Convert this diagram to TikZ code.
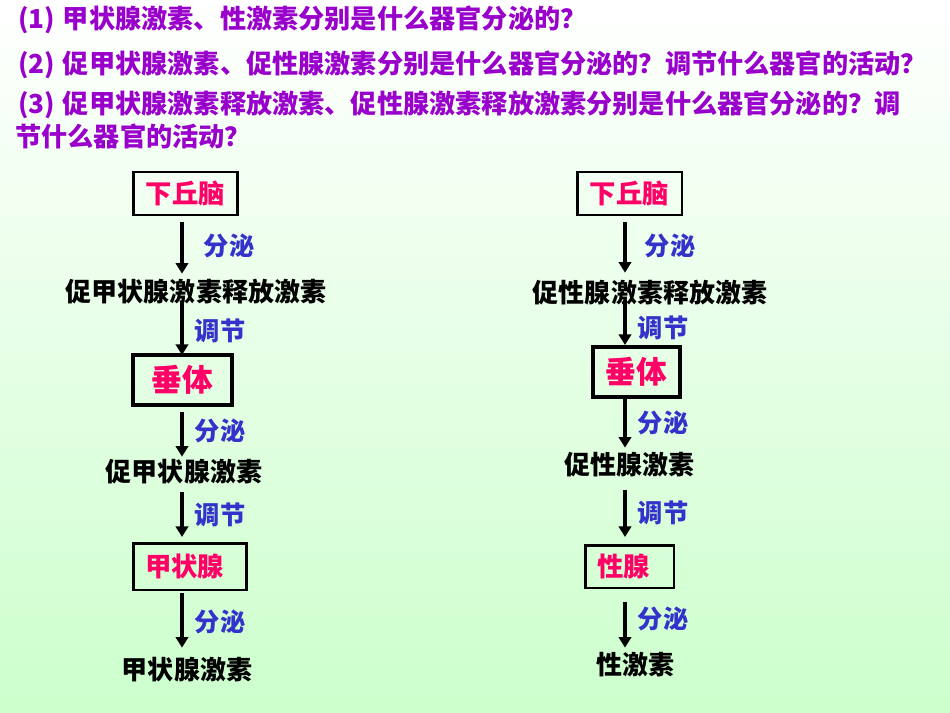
\documentclass[tikz,border=0pt]{standalone}
\usepackage{fontspec}
\setmainfont{Noto Sans CJK SC}
\usetikzlibrary{arrows.meta, positioning}
\definecolor{ungu}{RGB}{153,0,204}
\definecolor{merah}{RGB}{255,0,102}
\definecolor{biru}{RGB}{51,51,204}
\definecolor{hijaumuda}{RGB}{204,255,204}

\begin{document}
\begin{tikzpicture}[
			x=0.02cm, y=-0.02cm,
			tanya/.style={anchor=west, inner sep=0, text=ungu, font=\bfseries\fontsize{14.9}{18}\selectfont},
			qiguan/.style={draw, rectangle, line width=1.7pt, inner sep=0, outer sep=0, text=merah, font=\bfseries\fontsize{15}{18}\selectfont},
			jisu/.style={inner sep=0, minimum height=0.6cm, font=\bfseries\fontsize{14.8}{18}\selectfont},
			zhushi/.style={inner sep=0, anchor=west, text=biru, font=\bfseries\fontsize{14.4}{17}\selectfont},
			jiantou/.style={-{Triangle[length=6pt, width=7pt]}, line width=2pt}
		]
		% Latar belakang
		\shade[top color=white, bottom color=hijaumuda] (0,0) rectangle (950,713);
		\useasboundingbox (0,0) rectangle (950,713);

		% Pertanyaan
		\node[tanya] (t1) at (18,20) {(1)\hspace{1pt} 甲状腺激素、性激素分别是什么器官分泌的？};
		\node[tanya] (t2) at (18,65) {(2)\hspace{1pt} 促甲状腺激素、促性腺激素分别是什么器官分泌的？调节什么器官的活动？};
		\node[tanya] (t3) at (18,105) {(3)\hspace{1pt} 促甲状腺激素释放激素、促性腺激素释放激素分别是什么器官分泌的？调};
		\node[tanya] (t4) at (15,136) {节什么器官的活动？};

		% Kolom kiri
		\coordinate (kiri) at (182,0);
		\node[qiguan, minimum width=2.1cm, minimum height=0.86cm] (xqn1) at (185.5,193.5) {下丘脑};
		\node[jisu] (trh) at (196,292) {促甲状腺激素释放激素};
		\node[qiguan, line width=2.3pt, minimum width=1.98cm, minimum height=1.0cm, font=\bfseries\fontsize{17.5}{20}\selectfont] (ct1) at (182.5,380) {垂体};
		\node[jisu] (tsh) at (184,472) {促甲状腺激素};
		\node[qiguan, text width=1.8cm, align=left, inner xsep=0.24cm, minimum height=0.94cm] (jzx) at (190,566.5) {甲状腺};
		\node[jisu] (th) at (187,670) {甲状腺激素};

		% Kolom kanan
		\coordinate (kanan) at (625,0);
		\node[qiguan, minimum width=2.1cm, minimum height=0.86cm] (xqn2) at (629.5,193.5) {下丘脑};
		\node[jisu] (gnrh) at (650,293) {促性腺激素释放激素};
		\node[qiguan, line width=2.3pt, minimum width=1.74cm, minimum height=1.0cm, font=\bfseries\fontsize{17.5}{20}\selectfont] (ct2) at (636.5,372) {垂体};
		\node[jisu] (gth) at (629,465) {促性腺激素};
		\node[qiguan, text width=1.3cm, align=left, inner xsep=0.24cm, minimum height=0.86cm] (xx) at (629.5,566.5) {性腺};
		\node[jisu] (xjs) at (635,665) {性激素};

		% Panah kiri
		\draw[jiantou, shorten <=0.14cm, shorten >=0.06cm] (xqn1.south -| kiri) -- node[zhushi, right=0.4cm] {分泌} (trh.north -| kiri);
		\draw[jiantou, shorten <=-0.1cm] (trh.south -| kiri) -- node[zhushi, right=0.22cm] {调节} (ct1.north -| kiri);
		\draw[jiantou, shorten <=0.14cm] (ct1.south -| kiri) -- node[zhushi, right=0.22cm] {分泌} (tsh.north -| kiri);
		\draw[jiantou, shorten <=0.1cm, shorten >=0.12cm] (tsh.south -| kiri) -- node[zhushi, right=0.22cm] {调节} (jzx.north -| kiri);
		\draw[jiantou, shorten <=0.06cm, shorten >=0.14cm] (jzx.south -| kiri) -- node[zhushi, right=0.22cm] {分泌} (th.north -| kiri);

		% Panah kanan
		\draw[jiantou, shorten <=0.14cm, shorten >=0.1cm] (xqn2.south -| kanan) -- node[zhushi, right=0.36cm] {分泌} (gnrh.north -| kanan);
		\draw[jiantou, shorten <=-0.16cm, shorten >=0.04cm] (gnrh.south -| kanan) -- node[zhushi, right=0.22cm] {调节} (ct2.north -| kanan);
		\draw[jiantou, shorten >=0.04cm] (ct2.south -| kanan) -- node[zhushi, right=0.22cm] {分泌} (gth.north -| kanan);
		\draw[jiantou, shorten <=0.2cm, shorten >=0.16cm] (gth.south -| kanan) -- node[zhushi, right=0.22cm] {调节} (xx.north -| kanan);
		\draw[jiantou, shorten <=0.28cm, shorten >=0.04cm] (xx.south -| kanan) -- node[zhushi, right=0.22cm] {分泌} (xjs.north -| kanan);
	\end{tikzpicture}
\end{document}
